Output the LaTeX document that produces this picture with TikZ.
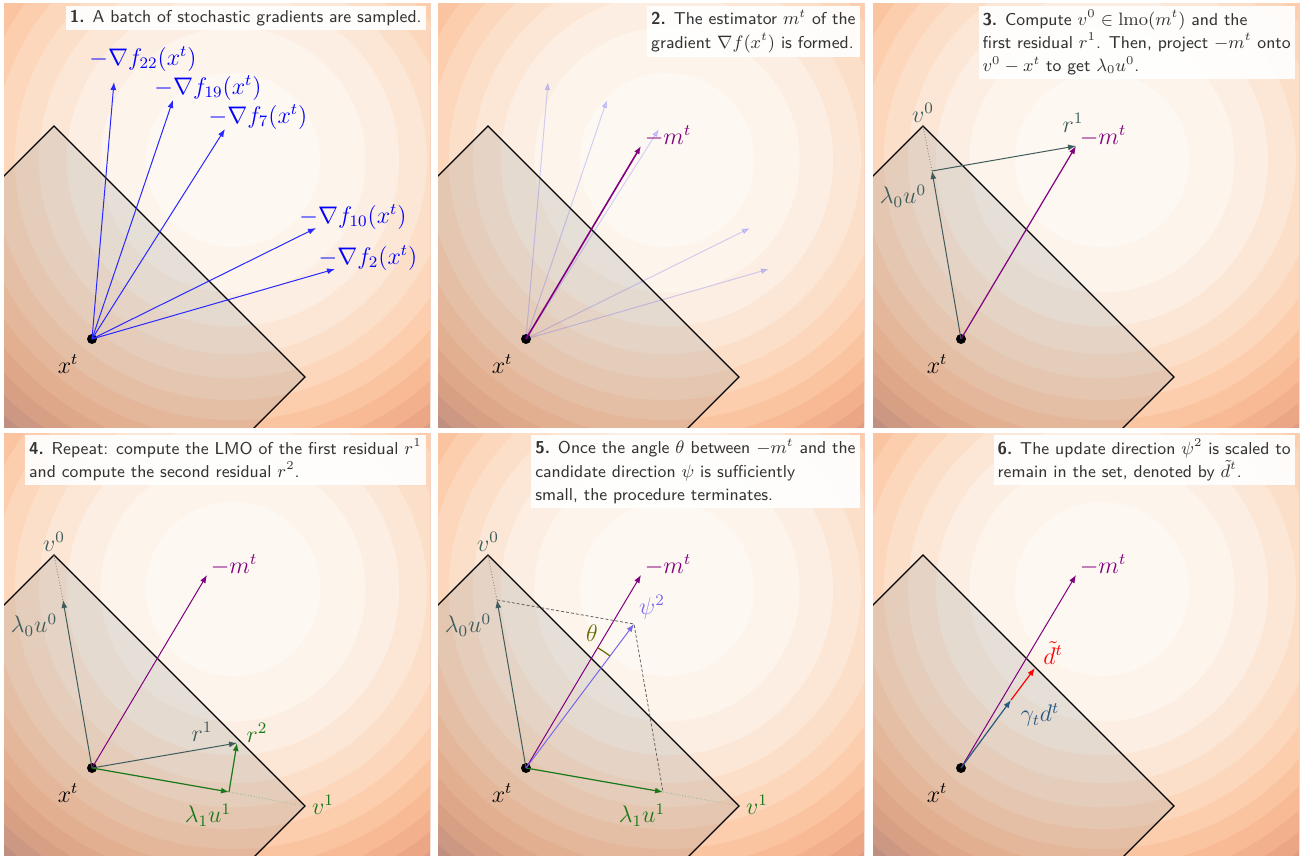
\documentclass[tikz,border=0pt]{standalone}
\usepackage{amsmath,amssymb}
\usepackage{tikz}
\usetikzlibrary{arrows.meta,positioning,calc}
\definecolor{mtpurple}{RGB}{128,0,128}
\definecolor{gradblue}{RGB}{40,40,255}
\definecolor{slate}{RGB}{62,92,92}
\definecolor{lmogreen}{RGB}{25,120,25}
\definecolor{psiblue}{RGB}{123,104,238}
\definecolor{thetaolive}{RGB}{105,105,0}
\definecolor{stepblue}{RGB}{40,88,128}
%% level sets of the objective, centre outwards
\definecolor{ring1}{RGB}{254,248,242}
\definecolor{ring2}{RGB}{253,244,236}
\definecolor{ring3}{RGB}{252,238,226}
\definecolor{ring4}{RGB}{252,231,214}
\definecolor{ring5}{RGB}{252,223,201}
\definecolor{ring6}{RGB}{252,215,188}
\definecolor{ring7}{RGB}{252,206,174}
\definecolor{ring8}{RGB}{251,196,160}
\definecolor{ring9}{RGB}{248,186,149}
\definecolor{ring10}{RGB}{243,176,140}
\definecolor{ring11}{RGB}{235,166,134}
\definecolor{ring12}{RGB}{221,157,132}
\definecolor{ring13}{RGB}{205,148,130}
\newcommand{\levelset}{%
  \clip (0,0) rectangle (426,423);
  \foreach \k in {13,12,...,1}
    \fill[ring\k] (229,156) circle ({10*sqrt(100*\k-24)});
  \coordinate (xt) at (88,335);
  \coordinate (v0) at (50,122);
  \coordinate (v1) at (301,373);
  \coordinate (mt) at (203,142);
  \draw[feasible] (-250,422) -- (v0) -- (v1) -- (1,673) -- cycle;
  \node[iterate] (dot) at (xt) {};
  \node[lbl] (xtlbl) at (64,360) {$x^t$};
}

\begin{document}
\begin{tikzpicture}[
  x=0.5pt, y=-0.5pt,
  vec/.style={-{Latex[length=4pt,width=3pt]}, line width=0.5pt},
  feasible/.style={draw=black, line width=0.6pt, fill=gray, fill opacity=0.18},
  iterate/.style={circle, fill=black, inner sep=0pt, minimum size=5pt},
  lbl/.style={font=\large, inner sep=0pt},
  caption/.style={fill=white, fill opacity=0.92, text opacity=1, text=black!80,
                  anchor=north east, align=left,
                  font=\sffamily\fontsize{8.6pt}{11.6pt}\selectfont, inner sep=2pt},
  guide/.style={densely dotted, line width=0.4pt},
  frame/.style={dash pattern=on 1.5pt off 1pt, draw=black!60, line width=0.4pt}
]
  \useasboundingbox (0,0) rectangle (1308,856);

  %% 1. sampled gradients
  \begin{scope}[shift={(4,4)}]
    \levelset
    \coordinate (g22) at (110,78);
    \coordinate (g19) at (169,96);
    \coordinate (g7) at (221,125);
    \coordinate (g10) at (312,224);
    \coordinate (g2) at (331,265);
    \foreach \g in {g22,g19,g7,g10,g2}
      \draw[vec, gradblue] (xt) -- (\g);
    \node[lbl, blue] (l22) at (139,55) {$-\nabla f_{22}(x^t)$};
    \node[lbl, blue] (l19) at (204,84) {$-\nabla f_{19}(x^t)$};
    \node[lbl, blue] (l7) at (254,113) {$-\nabla f_{7}(x^t)$};
    \node[lbl, blue] (l10) at (349,213) {$-\nabla f_{10}(x^t)$};
    \node[lbl, blue] (l2) at (364,254) {$-\nabla f_{2}(x^t)$};
    \node[caption] (cap1) at (422,1.5)
      {\textbf{1.} A batch of stochastic gradients are sampled.};
  \end{scope}

  %% 2. estimator
  \begin{scope}[shift={(438,4)}]
    \levelset
    \coordinate (g22) at (110,78);
    \coordinate (g19) at (169,96);
    \coordinate (g7) at (221,125);
    \coordinate (g10) at (312,224);
    \coordinate (g2) at (331,265);
    \foreach \g in {g22,g19,g7,g10,g2}
      \draw[vec, gradblue, opacity=0.2] (xt) -- (\g);
    \draw[vec, mtpurple, line width=0.8pt] (xt) -- (mt);
    \node[lbl, mtpurple] (mtlbl) at (230,132) {$-m^t$};
    \node[caption] (cap2) at (422,1.5)
      {\textbf{2.} The estimator $m^t$ of the\\gradient $\nabla f(x^t)$ is formed.};
  \end{scope}

  %% 3. first LMO and residual
  \begin{scope}[shift={(873,4)}]
    \levelset
    \coordinate (lu0) at (59,167);
    \draw[guide, gray] (v0) -- (lu0);
    \draw[vec, slate] (xt) -- (lu0);
    \draw[vec, slate] (lu0) -- (mt);
    \draw[vec, mtpurple, line width=0.6pt] (xt) -- (mt);
    \node[lbl, slate] (v0lbl) at (50,109) {$v^0$};
    \node[lbl, slate] (lu0lbl) at (30,192) {$\lambda_0 u^0$};
    \node[lbl, slate] (r1lbl) at (200,119) {$r^1$};
    \node[lbl, mtpurple] (mtlbl) at (230,132) {$-m^t$};
    \node[caption] (cap3) at (422,1.5)
      {\textbf{3.} Compute $v^0 \in \operatorname{lmo}(m^t)$ and the\\
       first residual $r^1$. Then, project $-m^t$ onto\\
       $v^0 - x^t$ to get $\lambda_0 u^0$.};
  \end{scope}

  %% 4. second LMO and residual
  \begin{scope}[shift={(4,433)}]
    \levelset
    \coordinate (lu0) at (59,167);
    \coordinate (lu1) at (225,359);
    \coordinate (r1e) at (233,310);
    \draw[guide, gray] (v0) -- (lu0);
    \draw[guide, lmogreen!50] (lu1) -- (v1);
    \draw[vec, slate] (xt) -- (lu0);
    \draw[vec, mtpurple] (xt) -- (mt);
    \draw[vec, slate] (xt) -- (r1e);
    \draw[vec, lmogreen, line width=0.6pt] (xt) -- (lu1);
    \draw[vec, lmogreen, line width=0.6pt] (lu1) -- (r1e);
    \node[lbl, slate] (v0lbl) at (50,109) {$v^0$};
    \node[lbl, slate] (lu0lbl) at (30,192) {$\lambda_0 u^0$};
    \node[lbl, mtpurple] (mtlbl) at (230,132) {$-m^t$};
    \node[lbl, slate] (r1lbl) at (198,299) {$r^1$};
    \node[lbl, lmogreen] (r2lbl) at (253,300) {$r^2$};
    \node[lbl, lmogreen] (lu1lbl) at (204,382) {$\lambda_1 u^1$};
    \node[lbl, lmogreen] (v1lbl) at (319,372) {$v^1$};
    \node[caption] (cap4) at (422,1.5)
      {\textbf{4.} Repeat: compute the LMO of the first residual $r^1$\\
       and compute the second residual $r^2$.};
  \end{scope}

  %% 5. stopping criterion
  \begin{scope}[shift={(438,433)}]
    \levelset
    \coordinate (lu0) at (59,167);
    \coordinate (lu1) at (225,359);
    \coordinate (psi) at (196,191);
    \draw[guide, gray] (v0) -- (lu0);
    \draw[guide, lmogreen!50] (lu1) -- (v1);
    \draw[frame] (lu0) -- (psi) -- (lu1);
    \draw[vec, slate] (xt) -- (lu0);
    \draw[vec, lmogreen, line width=0.6pt] (xt) -- (lu1);
    \draw[vec, mtpurple] (xt) -- (mt);
    \draw[vec, psiblue] (xt) -- (psi);
    \draw[thetaolive, line width=0.6pt] (xt) ++(-53.1:140) arc[start angle=-53.1, end angle=-59.2, radius=140];
    \node[lbl, slate] (v0lbl) at (50,109) {$v^0$};
    \node[lbl, slate] (lu0lbl) at (30,192) {$\lambda_0 u^0$};
    \node[lbl, mtpurple] (mtlbl) at (230,132) {$-m^t$};
    \node[lbl, psiblue] (psilbl) at (214,174) {$\psi^2$};
    \node[lbl, thetaolive] (thlbl) at (154,200) {$\theta$};
    \node[lbl, lmogreen] (lu1lbl) at (204,382) {$\lambda_1 u^1$};
    \node[lbl, lmogreen] (v1lbl) at (319,372) {$v^1$};
    \node[caption] (cap5) at (422,1.5)
      {\textbf{5.} Once the angle $\theta$ between $-m^t$ and the\\
       candidate direction $\psi$ is sufficiently\\
       small, the procedure terminates.};
  \end{scope}

  %% 6. scaled update
  \begin{scope}[shift={(873,433)}]
    \levelset
    \coordinate (gd) at (138,267);
    \coordinate (dt) at (162,235);
    \draw[vec, mtpurple] (xt) -- (mt);
    \draw[vec, red, line width=0.6pt] (gd) -- (dt);
    \draw[vec, stepblue, line width=0.6pt] (xt) -- (gd);
    \node[lbl, mtpurple] (mtlbl) at (230,132) {$-m^t$};
    \node[lbl, red] (dtlbl) at (180,220) {$\tilde{d}^t$};
    \node[lbl, stepblue] (gdlbl) at (167,282) {$\gamma_t d^t$};
    \node[caption] (cap6) at (422,1.5)
      {\textbf{6.} The update direction $\psi^2$ is scaled to\\
       remain in the set, denoted by $\tilde{d}^t$.};
  \end{scope}
\end{tikzpicture}
\end{document}
